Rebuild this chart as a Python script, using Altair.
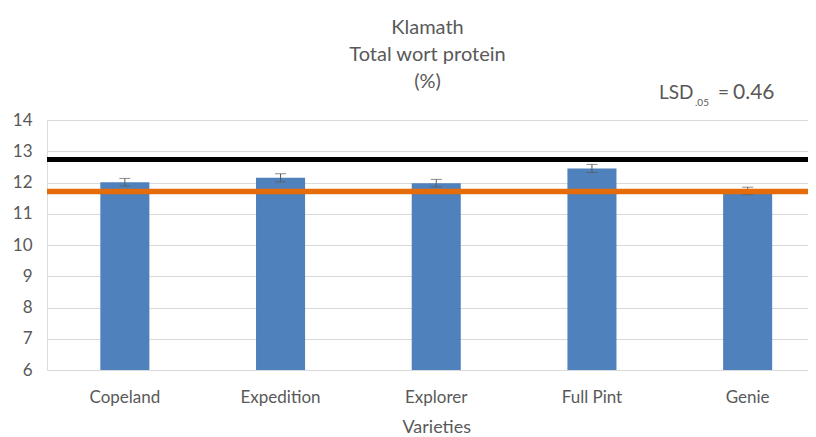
import altair as alt
import pandas as pd

varieties = ["Copeland", "Expedition", "Explorer", "Full Pint", "Genie"]
protein = [12.01, 12.15, 11.98, 12.45, 11.73]
err = [0.12, 0.13, 0.12, 0.13, 0.12]
ref_names = ["upper", "lower"]
ref_values = [12.74, 11.71]
y_ticks = [6, 7, 8, 9, 10, 11, 12, 13, 14]
lsd_parts = ["LSD", ".05", "=", "0.46"]

df = pd.DataFrame({"Varieties": varieties, "protein": protein, "err": err})
df["lo"] = df["protein"] - df["err"]
df["hi"] = df["protein"] + df["err"]
ref = pd.DataFrame({"name": ref_names, "value": ref_values})
note = pd.DataFrame({"t": [lsd_parts[0]]})

FONT = "Lato"
GRAY = "#595959"

xscale = alt.Scale(domain=varieties, range=[0, 778.5], paddingInner=0.685, paddingOuter=0.3425)
yscale = alt.Scale(domain=[6, 14], zero=False, nice=False, clamp=True)

xaxis = alt.Axis(title="Varieties", labelAngle=0, ticks=False, domain=False,
                 labelFont=FONT, labelFontSize=17, labelColor=GRAY, labelPadding=19,
                 titleFont=FONT, titleFontSize=18, titleColor=GRAY, titleFontWeight="normal",
                 titlePadding=13)
yaxis = alt.Axis(title=None, values=y_ticks, ticks=False, domain=False,
                 gridColor="#D9D9D9", gridWidth=1, labelOverlap=False,
                 labelFont=FONT, labelFontSize=17, labelColor=GRAY, labelPadding=15)


def X():
    return alt.X("Varieties:N", scale=xscale, sort=varieties, axis=xaxis)


base = alt.Chart(df)

bars = base.mark_bar(color="#4F81BD").encode(
    x=X(),
    y=alt.Y("protein:Q", scale=yscale, axis=yaxis),
)

err_rule = base.mark_rule(color=GRAY, strokeWidth=1).encode(
    x=X(),
    y=alt.Y("lo:Q", scale=yscale, axis=yaxis),
    y2="hi:Q",
)
err_lo = base.mark_tick(color=GRAY, thickness=1, size=11, orient="horizontal").encode(
    x=X(),
    y=alt.Y("lo:Q", scale=yscale, axis=yaxis),
)
err_hi = base.mark_tick(color=GRAY, thickness=1, size=11, orient="horizontal").encode(
    x=X(),
    y=alt.Y("hi:Q", scale=yscale, axis=yaxis),
)

lines = alt.Chart(ref).mark_rule().encode(
    y=alt.Y("value:Q", scale=yscale, axis=yaxis),
    color=alt.Color("name:N", scale=alt.Scale(domain=ref_names, range=["#000000", "#E46C0A"]), legend=None),
    strokeWidth=alt.StrokeWidth("name:N", scale=alt.Scale(domain=ref_names, range=[5, 5.5]), legend=None),
)


def note_text(txt, xpos, ypos, size, align="left"):
    return alt.Chart(note).mark_text(font=FONT, fontSize=size, color=GRAY, align=align,
                                     baseline="alphabetic").encode(
        x=alt.value(xpos), y=alt.value(ypos), text=alt.value(txt))


lsd1 = note_text(lsd_parts[0], 612, -21, 19)
lsd2 = note_text(lsd_parts[1], 648, -14, 10)
lsd3 = note_text(lsd_parts[2], 671, -21, 19)
lsd4 = note_text(lsd_parts[3], 686, -21, 21)

chart = alt.layer(bars, err_rule, err_lo, err_hi, lines, lsd1, lsd2, lsd3, lsd4).properties(
    width=761,
    height=250,
    title=alt.TitleParams(
        text="Klamath",
        subtitle=["Total wort protein", "(%)"],
        font=FONT, fontSize=20, fontWeight="normal", color=GRAY,
        subtitleFont=FONT, subtitleFontSize=20, subtitleColor=GRAY,
        subtitleLineHeight=27, subtitlePadding=7,
        anchor="middle", offset=-10, frame="group",
    ),
    autosize=alt.AutoSizeParams(type="none"),
    padding={"left": 39, "top": 112, "right": 0, "bottom": 67},
).configure_view(stroke=None).configure(background="white")

chart.save("out.html", embed_options={"renderer": "svg", "actions": False})
